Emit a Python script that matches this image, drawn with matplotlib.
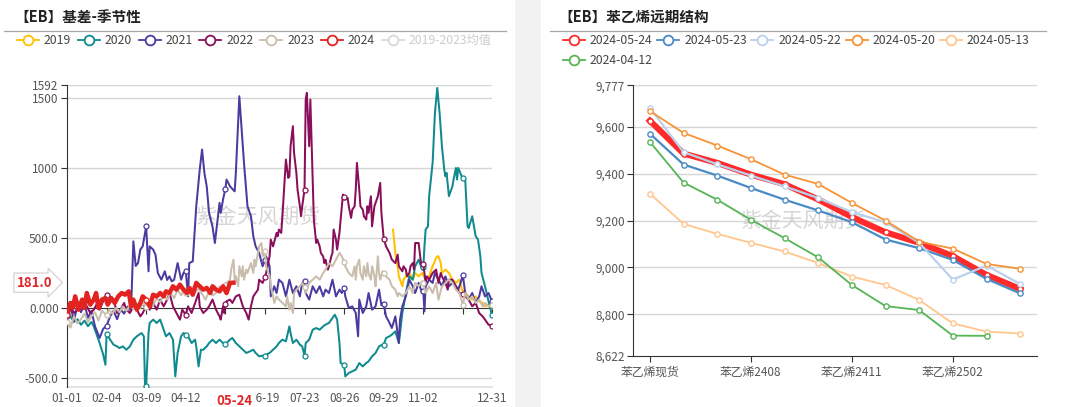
import matplotlib
matplotlib.use('Agg')
import matplotlib.pyplot as plt
import matplotlib.transforms as mtransforms
from matplotlib.lines import Line2D
from matplotlib.patches import Rectangle

plt.rcParams['font.family'] = ['Noto Sans CJK SC', 'DejaVu Sans']

# ---------------- Left chart data (day of year index, basis value) ----------------
days_2019 = [280, 282, 283, 284, 285, 287, 288, 289, 291, 292, 294, 295, 297, 299, 302, 305, 308, 311, 314, 317,
             318, 319, 321, 322, 325, 328, 331, 334, 337, 338, 339, 342, 345, 348, 351, 354, 357, 359, 362, 365]
vals_2019 = [560, 393, 333, 298, 226, 179, 155, 202, 226, 250, 202, 238, 202, 250, 226, 250, 202, 226, 298, 357,
             369, 369, 321, 250, 274, 250, 202, 179, 202, 179, 131, 107, 83, 60, 83, 48, 36, 12, 24, 12]

days_2020 = [0, 3, 6, 9, 12, 15, 18, 21, 23, 25, 28, 31, 33, 34, 37, 40, 43, 45, 48, 51, 54, 57, 60, 62, 64, 66, 67, 68,
             70, 71, 74, 77, 80, 82, 85, 88, 91, 93, 95, 98, 100, 102, 104, 107, 110, 111, 113, 115, 117, 120, 122, 125,
             128, 131, 134, 136, 137, 140, 142, 145, 148, 151, 154, 157, 160, 162, 165, 168, 170, 171, 174, 177, 180,
             182, 185, 188, 191, 192, 194, 197, 200, 202, 204, 205, 208, 211, 214, 217, 220, 222, 225, 228, 230, 232,
             234, 235, 238, 239, 242, 245, 248, 251, 254, 257, 259, 262, 265, 268, 270, 272, 274, 277, 279, 282, 285,
             288, 291, 294, 297, 299, 302, 305, 306, 307, 308, 310, 311, 314, 316, 318, 320, 322, 324, 325, 326, 328,
             331, 332, 334, 335, 336, 339, 340, 342, 344, 345, 348, 351, 353, 355, 356, 359, 362, 365]
vals_2020 = [-40, -60, -100, -80, -120, -90, -130, -100, -131, -179, -250, -330, -405, -185, -226, -262, -274, -286,
             -274, -298, -274, -226, -202, -190, -179, -202, -548, -560, -179, -107, -83, -107, -83, -131, -202, -179,
             -226, -488, -321, -202, -179, -190, -202, -250, -226, -274, -417, -298, -298, -274, -250, -226, -250, -226,
             -250, -255, -250, -226, -214, -250, -274, -298, -321, -310, -298, -321, -345, -340, -345, -333, -321, -298,
             -274, -250, -226, -238, -131, -179, -250, -226, -262, -274, -340, -250, -226, -155, -143, -155, -131, -119,
             -107, -71, -48, -83, -250, -393, -405, -488, -464, -452, -440, -393, -417, -393, -381, -345, -321, -274,
             -265, -262, -214, -202, -190, -167, -250, -36, 107, 226, 202, 298, 345, 274, 290, 440, 560, 583, 798, 1036,
             1393, 1571, 1393, 1155, 988, 940, 964, 798, 869, 917, 1000, 917, 1000, 940, 930, 917, 583, 571, 655, 512,
             488, 369, 250, 155, 48, -52]

days_2021 = [0, 3, 6, 9, 12, 15, 18, 21, 24, 28, 31, 34, 37, 40, 43, 46, 49, 52, 55, 57, 59, 61, 63, 65, 68, 70, 71, 74,
             76, 78, 81, 84, 86, 88, 90, 92, 95, 98, 100, 102, 104, 105, 108, 111, 114, 116, 118, 120, 122, 125, 127,
             130, 131, 132, 134, 136, 137, 140, 142, 144, 145, 148, 150, 152, 155, 158, 160, 162, 165, 168, 170, 171,
             174, 175, 178, 180, 182, 185, 188, 191, 194, 197, 200, 202, 204, 205, 208, 211, 214, 217, 220, 222, 225,
             228, 231, 234, 236, 238, 239, 242, 245, 248, 250, 251, 254, 257, 259, 262, 265, 268, 270, 272, 274, 277,
             279, 282, 285, 286, 288, 291, 294, 297, 299, 302, 305, 306, 307, 308, 311, 314, 316, 319, 322, 325, 328,
             331, 334, 336, 338, 340, 342, 345, 348, 351, 354, 356, 359, 362, 365]
vals_2021 = [-60, 10, -90, 20, -30, 30, -70, -20, -130, -214, -150, -126, -60, -20, -80, -10, -40, 10, -20, 476, 300,
             321, 417, 440, 583, 262, 440, 417, 380, 250, 202, 262, 200, 226, 190, 202, 321, 202, 250, 262, 83, 321,
             333, 726, 988, 1131, 964, 869, 679, 580, 464, 679, 750, 679, 774, 850, 917, 869, 850, 833, 964, 1512,
             1274, 1036, 726, 655, 512, 440, 393, 298, 340, 369, 298, 83, 155, 107, 202, 179, 83, 202, 107, 155, 83,
             179, 190, 107, 60, 155, 107, 155, 83, 131, 107, 202, 83, 131, 107, 145, 83, 0, 12, -36, -202, 60, -36, 12,
             107, -12, 12, 131, 20, 31, -60, -107, -143, -60, -250, -83, 12, 83, 202, 155, 107, 179, 107, 119, -24,
             155, 202, 179, 250, 202, 155, 226, 155, 179, 155, 131, 180, 233, 107, 60, 107, 36, 83, 155, 83, 107, 48]

days_2022 = [0, 3, 6, 9, 12, 14, 17, 20, 23, 26, 28, 31, 34, 37, 40, 43, 46, 49, 51, 54, 57, 60, 63, 65, 68, 71, 74, 77,
             80, 83, 86, 88, 91, 94, 97, 99, 102, 104, 107, 110, 113, 114, 117, 120, 122, 125, 128, 131, 132, 134, 135,
             136, 137, 140, 142, 145, 148, 151, 154, 156, 158, 160, 162, 164, 165, 168, 170, 171, 174, 175, 177, 180,
             181, 182, 184, 185, 187, 188, 190, 191, 192, 194, 195, 197, 198, 200, 201, 202, 204, 205, 206, 207, 208,
             209, 210, 211, 212, 214, 215, 217, 218, 220, 221, 222, 224, 225, 227, 228, 229, 231, 232, 234, 235, 237,
             238, 239, 241, 242, 244, 245, 247, 248, 249, 251, 252, 254, 255, 257, 258, 259, 261, 262, 264, 265, 267,
             268, 269, 270, 272, 274, 277, 279, 282, 284, 285, 288, 289, 291, 292, 294, 295, 297, 298, 299, 302, 304,
             306, 307, 308, 309, 311, 314, 317, 319, 321, 322, 325, 327, 328, 331, 334, 337, 340, 342, 345, 348, 351,
             354, 357, 359, 362, 365]
vals_2022 = [-20, 12, -36, -12, 12, 60, 12, -36, -12, 36, -12, 48, 95, 83, 60, -36, -12, 36, -12, -36, 12, -12, -60,
             -36, 12, -12, 36, -12, 60, 12, 60, 107, 12, -36, -83, -12, -48, 12, -36, 36, 107, 12, -36, -12, 12, 60,
             -12, -60, -83, 12, -36, 30, 48, 60, 36, 83, 95, 12, -36, -83, 12, 83, 107, 131, 202, 179, 220, 250, 369,
             488, 440, 536, 512, 560, 536, 655, 917, 1060, 929, 940, 1155, 1298, 1107, 964, 845, 726, 655, 726, 845,
             1488, 1536, 1345, 1155, 1488, 1202, 917, 631, 464, 488, 440, 393, 369, 321, 345, 274, 298, 369, 393, 560,
             488, 417, 536, 631, 810, 790, 774, 786, 726, 643, 702, 726, 845, 1036, 845, 726, 702, 655, 631, 726, 679,
             798, 583, 726, 750, 798, 845, 893, 679, 495, 440, 393, 345, 321, 381, 298, 262, 298, 274, 226, 250, 298,
             321, 274, 464, 464, 321, 316, 250, 179, 226, 202, 250, 274, 179, 250, 226, 179, 131, 202, 202, 155, 107,
             100, 83, 60, 12, 36, -36, -60, -83, -119, -125]

days_2023 = [0, 3, 6, 9, 12, 15, 18, 21, 24, 27, 30, 34, 36, 39, 42, 45, 48, 51, 54, 57, 60, 63, 66, 68, 71, 74, 77, 80,
             83, 86, 89, 92, 95, 98, 101, 102, 104, 107, 110, 113, 116, 119, 122, 125, 128, 131, 134, 136, 137, 140,
             141, 143, 144, 145, 147, 148, 150, 151, 152, 154, 155, 157, 158, 160, 161, 162, 164, 165, 167, 168, 170,
             171, 172, 174, 175, 177, 178, 180, 182, 185, 188, 189, 191, 192, 194, 195, 197, 200, 202, 204, 205, 208,
             211, 214, 217, 220, 222, 225, 228, 231, 234, 236, 238, 239, 242, 245, 247, 248, 249, 251, 252, 254, 255,
             257, 258, 259, 261, 262, 264, 265, 267, 268, 269, 271, 272, 274, 277, 279, 282, 284, 285, 288, 291, 294,
             297, 299, 302, 305, 306, 308, 311, 314, 317, 319, 322, 325, 328, 331, 334, 337, 340, 342, 345, 348, 351,
             354, 357, 359, 362, 365]
vals_2023 = [-100, -140, -60, -110, -80, -40, -100, -60, -30, -90, -20, -50, -10, -40, 0, -30, 10, -20, 20, -10, 30, 0,
             40, 10, 50, 20, 70, 40, 90, 60, 110, 70, 130, 90, 140, 110, 100, 150, 110, 140, 100, 60, 120, 90, 107,
             155, 131, 165, 179, 202, 274, 345, 202, 226, 155, 298, 226, 298, 202, 274, 250, 298, 321, 250, 345, 298,
             393, 440, 464, 369, 405, 298, 274, 226, 155, 83, 36, 83, 60, 36, 12, 83, -12, 36, -36, 107, 131, 155, 179,
             150, 107, 179, 202, 226, 202, 250, 274, 321, 298, 345, 393, 369, 330, 298, 250, 226, 298, 202, 298, 345,
             250, 202, 298, 226, 321, 250, 202, 298, 226, 155, 369, 250, 202, 262, 250, 226, 202, 155, 131, 83, 107,
             83, 107, 155, 107, 179, 155, 190, 180, 107, 155, 107, 179, 60, 155, 179, 202, 179, 131, 107, 24, 107, 60,
             83, 36, 60, 12, 36, 12, 24]

days_2024 = [0, 3, 5, 7, 10, 13, 15, 17, 20, 23, 25, 27, 30, 33, 35, 38, 41, 44, 47, 50, 53, 55, 57, 60, 63, 65, 68,
             71, 74, 77, 80, 83, 85, 88, 91, 94, 97, 100, 103, 105, 108, 111, 114, 117, 120, 123, 125, 128, 131, 134,
             137, 140, 143]
vals_2024 = [-48, 36, 0, 83, -12, 60, 0, 107, 24, 60, 107, 0, 60, 71, 24, 71, 36, 83, 107, 95, 119, 12, 60, -12, 36,
             83, 60, 12, 95, 83, 107, 83, 119, 107, 155, 131, 167, 131, 107, 143, 95, 179, 155, 131, 143, 107, 155,
             131, 119, 155, 107, 179, 181]

season_labels = ['2019', '2020', '2021', '2022', '2023', '2024', '2019-2023均值']
season_colors = ['#FFC000', '#0F8A8F', '#4B3A9F', '#8A0F5A', '#C9BDAB', '#E2231F', '#D9D9D9']

left_yticks = [-500, 0, 500, 1000, 1500, 1592]
left_yticklabels = ['-500.0', '0.000', '500.0', '1000', '1500', '1592']
left_tick_days = [0, 34, 68, 102, 136, 170, 204, 238, 272, 306, 340, 365]
left_label_days = [0, 34, 68, 102, 170, 204, 238, 272, 306, 365]
left_labels = ['01-01', '02-04', '03-09', '04-12', '06-19', '07-23', '08-26', '09-29', '11-02', '12-31']
pointer_day, pointer_label = 144, '05-24'
pointer_value, pointer_text = 181.0, '181.0'

# ---------------- Right chart data ----------------
contracts = ['苯乙烯现货', '苯乙烯2406', '苯乙烯2407', '苯乙烯2408', '苯乙烯2409', '苯乙烯2410',
             '苯乙烯2411', '苯乙烯2412', '苯乙烯2501', '苯乙烯2502', '苯乙烯2503', '苯乙烯2504']
curve_0524 = [9626, 9486, 9446, 9396, 9355, 9290, 9215, 9150, 9105, 9048, 8968, 8908]
curve_0523 = [9571, 9439, 9392, 9339, 9289, 9243, 9193, 9119, 9082, 9032, 8951, 8889]
curve_0522 = [9681, 9492, 9440, 9392, 9346, 9296, 9236, 9193, 9105, 8948, 9008, 8929]
curve_0520 = [9667, 9574, 9520, 9462, 9396, 9356, 9275, 9200, 9110, 9080, 9015, 8994]
curve_0513 = [9315, 9186, 9143, 9105, 9068, 9019, 8961, 8925, 8861, 8761, 8726, 8718]
curve_0412 = [9536, 9362, 9289, 9203, 9125, 9043, 8925, 8835, 8818, 8709, 8708, None]
curve_labels = ['2024-05-24', '2024-05-23', '2024-05-22', '2024-05-20', '2024-05-13', '2024-04-12']
curve_colors = ['#FF2A2A', '#4A8BC6', '#B9D1EE', '#F79336', '#FFC68E', '#55B555']
right_yticks = [8622, 8800, 9000, 9200, 9400, 9600, 9777]
right_tick_idx = [0, 3, 6, 9]

# ---------------- Figure ----------------
W, H = 1065, 407
fig = plt.figure(figsize=(W / 100, H / 100), dpi=100)


def fx(x):
    return x / W


def fy(y):
    return 1 - y / H


# grey gap between the two panels
fig.add_artist(Rectangle((fx(515), 0), fx(26), 1, transform=fig.transFigure, fc='#F2F2F2', ec='none', zorder=0))

# titles and separator lines
fig.text(fx(14), fy(17), '【EB】基差-季节性', fontsize=10.5, fontweight='bold', color='#222222', va='center', ha='left')
fig.text(fx(558), fy(17), '【EB】苯乙烯远期结构', fontsize=10.5, fontweight='bold', color='#222222', va='center', ha='left')
fig.add_artist(Line2D([fx(4), fx(506)], [fy(30.5), fy(30.5)], transform=fig.transFigure, color='#A8A8A8', lw=0.9))
fig.add_artist(Line2D([fx(550), fx(1046)], [fy(30.5), fy(30.5)], transform=fig.transFigure, color='#A8A8A8', lw=0.9))


def legend_item(x0, y0, color, label, tcolor):
    fig.add_artist(Line2D([fx(x0), fx(x0 + 22)], [fy(y0), fy(y0)], transform=fig.transFigure, color=color, lw=1.3))
    fig.add_artist(Line2D([fx(x0 + 11)], [fy(y0)], transform=fig.transFigure, color=color, marker='o', ms=7,
                          mfc='white', mec=color, mew=1.3, lw=0))
    fig.text(fx(x0 + 27), fy(y0), label, fontsize=8.8, color=tcolor, va='center', ha='left')


for i, (lab, col) in enumerate(zip(season_labels, season_colors)):
    legend_item(17 + i * 60.8, 40, col, lab, '#CCCCCC' if i == 6 else '#444444')

for i, (lab, col) in enumerate(zip(curve_labels, curve_colors)):
    row, colno = divmod(i, 5)
    legend_item(563 + colno * 94.2, 40 + row * 20, col, lab, '#444444')

# ---------------- Left axes ----------------
ax1 = fig.add_axes([fx(67), fy(387), fx(425), 302 / H])
ax1.set_xlim(0, 365)
ax1.set_ylim(-564, 1592)
for s in ['top', 'right']:
    ax1.spines[s].set_visible(False)
ax1.spines['left'].set_color('#333333')
ax1.spines['bottom'].set_position(('data', 0))
ax1.spines['bottom'].set_color('#333333')
ax1.set_yticks(left_yticks)
ax1.set_yticklabels(left_yticklabels)
ax1.tick_params(axis='y', length=4, color='#333333', labelsize=8.5, labelcolor='#555555', pad=2)
ax1.set_xticks(left_tick_days)
ax1.tick_params(axis='x', length=4, color='#333333', labelbottom=False)
for v in left_yticks:
    if v != 0:
        ax1.axhline(v, color='#D6D6D6', lw=1.0, zorder=0.5)
ax1.axhline(ax1.get_ylim()[0], color='#DDDDDD', lw=1.2, zorder=0.5, clip_on=False)

series = [(days_2019, vals_2019), (days_2020, vals_2020), (days_2021, vals_2021),
          (days_2022, vals_2022), (days_2023, vals_2023), (days_2024, vals_2024)]
for k, ((d, v), col) in enumerate(zip(series, season_colors[:6])):
    marks = [i for i, dd in enumerate(d) if dd in left_tick_days]
    lw = 3.2 if k == 5 else 1.45
    ax1.plot(d, v, color=col, lw=lw, marker='o', markevery=marks, ms=3.6, mfc='white', mec=col, mew=0.9,
             solid_joinstyle='round', zorder=2 + k)

tr_x = mtransforms.blended_transform_factory(ax1.transData, ax1.transAxes)
for dd, lab in zip(left_label_days, left_labels):
    ax1.text(dd, -0.018, lab, transform=tr_x, ha='center', va='top', fontsize=8.5, color='#555555')
ax1.text(pointer_day, -0.022, pointer_label, transform=tr_x, ha='center', va='top', fontsize=9.5,
         fontweight='bold', color='#E0262B', zorder=20,
         bbox=dict(boxstyle='square,pad=0.25', fc='white', ec='none'))
tr_y = mtransforms.blended_transform_factory(ax1.transAxes, ax1.transData)
ax1.text(-0.035, pointer_value, pointer_text, transform=tr_y, ha='right', va='center', fontsize=9.5,
         fontweight='bold', color='#E0262B', zorder=20,
         bbox=dict(boxstyle='rarrow,pad=0.2', fc='white', ec='#CFCFCF', lw=0.8))
ax1.text(0.45, 0.565, '紫金天风期货', transform=ax1.transAxes, ha='center', va='center', fontsize=15,
         color='#C8C8C8', alpha=0.75, zorder=1)

# ---------------- Right axes ----------------
ax2 = fig.add_axes([fx(633), fy(356), fx(404), 270.7 / H])
xs = list(range(len(contracts)))
ax2.set_xlim(-0.5, len(contracts) - 0.5)
ax2.set_ylim(right_yticks[0], right_yticks[-1])
for s in ['top', 'right']:
    ax2.spines[s].set_visible(False)
ax2.spines['left'].set_color('#333333')
ax2.spines['bottom'].set_color('#333333')
ax2.set_yticks(right_yticks)
ax2.set_yticklabels([f'{v:,}' for v in right_yticks])
ax2.tick_params(axis='y', length=4, color='#333333', labelsize=8.5, labelcolor='#555555', pad=2)
ax2.set_xticks(right_tick_idx)
ax2.set_xticklabels([contracts[i] for i in right_tick_idx])
ax2.tick_params(axis='x', length=4, color='#333333', labelsize=8.5, labelcolor='#555555', pad=3)
for v in right_yticks[1:]:
    ax2.axhline(v, color='#D6D6D6', lw=1.0, zorder=0.5)

curves = [curve_0524, curve_0523, curve_0522, curve_0520, curve_0513, curve_0412]
widths = [4.4, 1.6, 1.6, 1.3, 1.3, 1.3]
for k, (cv, col, lw) in enumerate(zip(curves, curve_colors, widths)):
    px = [x for x, v in zip(xs, cv) if v is not None]
    pv = [v for v in cv if v is not None]
    ax2.plot(px, pv, color=col, lw=lw, marker='o', ms=3.8, mfc='white', mec=col, mew=1.0,
             solid_joinstyle='round', zorder=2 + k)
ax2.text(0.42, 0.5, '紫金天风期货', transform=ax2.transAxes, ha='center', va='center', fontsize=15,
         color='#C8C8C8', alpha=0.75, zorder=1)

fig.savefig('out.png', dpi=100, facecolor='white')
